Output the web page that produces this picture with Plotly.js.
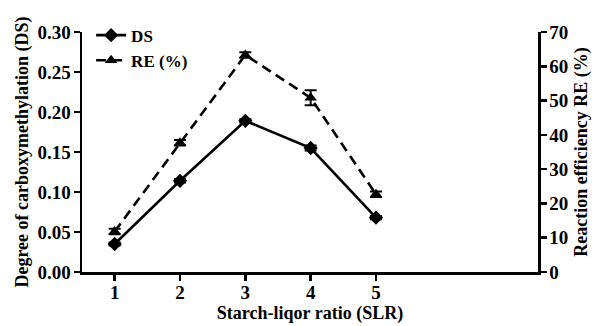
<!DOCTYPE html>
<html>
<head>
<meta charset="utf-8">
<script src="https://cdn.plot.ly/plotly-3.0.1.min.js"></script>
<style>html,body{margin:0;padding:0;background:#fff;}#chart{width:597px;height:326px;}</style>
</head>
<body>
<div id="chart"></div>
<script>
const slr = [1, 2, 3, 4, 5];
const dsValues = [0.035, 0.114, 0.189, 0.155, 0.068];
const dsErrors = [0.002, 0.002, 0.002, 0.003, 0.002];
const reValues = [11.8, 37.7, 63.3, 50.8, 22.7];
const reErrors = [0.8, 0.8, 0.8, 2.2, 0.8];
const xTickVals = [1, 2, 3, 4, 5];
const fam = "Liberation Serif";
const tickFont = {family: fam, size: 19, color: "#000", weight: "bold"};
const titleFont = {family: fam, size: 18, color: "#000", weight: "bold"};

const traces = [
  {
    x: slr, y: dsValues, name: "DS", type: "scatter", mode: "lines+markers",
    line: {color: "#000", width: 2.6},
    marker: {symbol: "diamond", size: 11, color: "#000"},
    error_y: {type: "data", array: dsErrors, visible: true, color: "#000", thickness: 2, width: 6}
  },
  {
    x: slr, y: reValues, name: "RE (%)", type: "scatter", mode: "lines+markers", yaxis: "y2",
    line: {color: "#000", width: 2.6, dash: "10px,6px"},
    marker: {symbol: "triangle-up", size: 11, color: "#000"},
    error_y: {type: "data", array: reErrors, visible: true, color: "#000", thickness: 2, width: 6}
  }
];

const axisCommon = {
  showline: true, linecolor: "#000", linewidth: 2.5, ticks: "outside", ticklen: 6, tickwidth: 2.5, tickcolor: "#000",
  showgrid: false, zeroline: false, tickfont: tickFont
};

const layout = {
  width: 597, height: 326,
  margin: {l: 82, r: 59, t: 32, b: 54},
  paper_bgcolor: "#fff", plot_bgcolor: "#fff",
  font: tickFont,
  showlegend: true,
  legend: {x: 0.02, y: 1.06, xanchor: "left", yanchor: "top", bgcolor: "rgba(0,0,0,0)",
           font: {family: fam, size: 17, color: "#000", weight: "bold"}, tracegroupgap: 0, itemwidth: 30},
  xaxis: Object.assign({}, axisCommon, {
    range: [0.5, 7.48], tickvals: xTickVals, ticktext: xTickVals.map(String), ticklabelstandoff: -4,
    title: {text: "Starch-liqor ratio (SLR)", font: titleFont, standoff: 2}
  }),
  yaxis: Object.assign({}, axisCommon, {
    range: [0, 0.30], dtick: 0.05, tickformat: ".2f", ticklabelstandoff: -1,
    title: {text: "Degree of carboxymethylation (DS)", font: titleFont, standoff: 4}
  }),
  yaxis2: Object.assign({}, axisCommon, {
    range: [0, 70], dtick: 10, overlaying: "y", side: "right", ticklabelstandoff: -1,
    title: {text: "Reaction efficiency RE (%)", font: titleFont, standoff: 7}
  })
};

Plotly.newPlot("chart", traces, layout, {displayModeBar: false, staticPlot: true});
</script>
</body>
</html>
